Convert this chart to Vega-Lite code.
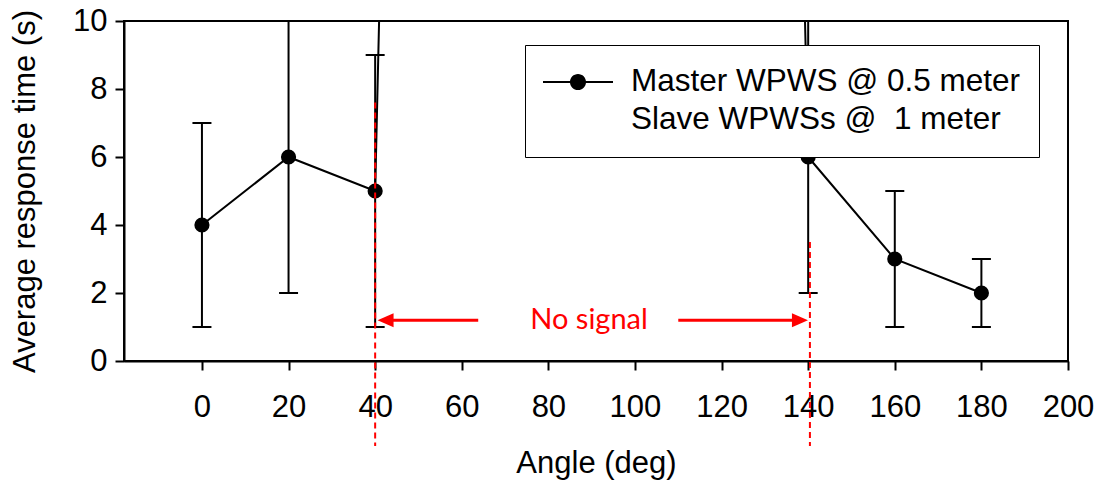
{
  "$schema": "https://vega.github.io/schema/vega-lite/v6.json",
  "width": 944,
  "height": 340,
  "autosize": "none",
  "padding": {"left": 124, "top": 21, "right": 33, "bottom": 126},
  "background": "white",
  "config": {
    "view": {"stroke": "black", "strokeWidth": 2},
    "axis": {
      "labelFont": "Liberation Sans", "labelFontSize": 31, "labelColor": "black", "labelFlush": false, "labelOverlap": false,
      "titleFont": "Liberation Sans", "titleFontSize": 31, "titleFontWeight": "normal", "titleColor": "black",
      "domainColor": "black", "domainWidth": 2, "tickColor": "black", "tickWidth": 2, "tickSize": 9, "grid": false
    },
    "axisX": {"labelPadding": 22, "titlePadding": 26},
    "axisY": {"labelPadding": 8, "titlePadding": 31}
  },
  "datasets": {
    "resp": [
      {"angle": 0, "mean": 4, "lo": 1, "hi": 7, "series": "Master WPWS @ 0.5 meter"},
      {"angle": 20, "mean": 6, "lo": 2, "hi": 10, "series": "Master WPWS @ 0.5 meter"},
      {"angle": 40, "mean": 5, "lo": 1, "hi": 9, "series": "Master WPWS @ 0.5 meter"},
      {"angle": 60, "mean": 115, "lo": null, "hi": null, "series": "Master WPWS @ 0.5 meter"},
      {"angle": 80, "mean": 115, "lo": null, "hi": null, "series": "Master WPWS @ 0.5 meter"},
      {"angle": 100, "mean": 115, "lo": null, "hi": null, "series": "Master WPWS @ 0.5 meter"},
      {"angle": 120, "mean": 115, "lo": null, "hi": null, "series": "Master WPWS @ 0.5 meter"},
      {"angle": 140, "mean": 6, "lo": 2, "hi": 10, "series": "Master WPWS @ 0.5 meter"},
      {"angle": 160, "mean": 3, "lo": 1, "hi": 5, "series": "Master WPWS @ 0.5 meter"},
      {"angle": 180, "mean": 2, "lo": 1, "hi": 3, "series": "Master WPWS @ 0.5 meter"}
    ],
    "cutoffs": [
      {"angle": 40, "top": 7.6, "bottom": -2.5},
      {"angle": 140.4, "top": 3.5, "bottom": -2.5}
    ],
    "shafts": [
      {"start": 42, "end": 63.8, "level": 1.2},
      {"start": 110, "end": 138, "level": 1.2}
    ],
    "heads": [
      {"angle": 42.4, "level": 1.2, "dir": "left"},
      {"angle": 138.1, "level": 1.2, "dir": "right"}
    ],
    "note": [
      {"angle": 89.4, "level": 1.2, "text": "No signal"}
    ]
  },
  "layer": [
    {
      "data": {"name": "resp"},
      "transform": [{"filter": "datum.lo != null"}],
      "mark": {"type": "rule", "color": "black", "strokeWidth": 2},
      "encoding": {
        "x": {"field": "angle", "type": "quantitative", "title": "Angle (deg)",
              "scale": {"domain": [-18, 200], "nice": false, "zero": false},
              "axis": {"values": [0, 20, 40, 60, 80, 100, 120, 140, 160, 180, 200]}},
        "y": {"field": "lo", "type": "quantitative", "title": "Average response time (s)",
              "scale": {"domain": [0, 10], "nice": false},
              "axis": {"values": [0, 2, 4, 6, 8, 10]}},
        "y2": {"field": "hi"}
      }
    },
    {
      "data": {"name": "resp"},
      "transform": [{"filter": "datum.lo != null"}],
      "mark": {"type": "tick", "orient": "horizontal", "color": "black", "size": 19, "thickness": 2, "opacity": 1},
      "encoding": {
        "x": {"field": "angle", "type": "quantitative", "title": "Angle (deg)", "scale": {"domain": [-18, 200], "nice": false, "zero": false}},
        "y": {"field": "lo", "type": "quantitative", "title": "Average response time (s)", "scale": {"domain": [0, 10], "nice": false}}
      }
    },
    {
      "data": {"name": "resp"},
      "transform": [{"filter": "datum.lo != null"}],
      "mark": {"type": "tick", "orient": "horizontal", "color": "black", "size": 19, "thickness": 2, "opacity": 1},
      "encoding": {
        "x": {"field": "angle", "type": "quantitative", "title": "Angle (deg)", "scale": {"domain": [-18, 200], "nice": false, "zero": false}},
        "y": {"field": "hi", "type": "quantitative", "title": "Average response time (s)", "scale": {"domain": [0, 10], "nice": false}}
      }
    },
    {
      "data": {"name": "resp"},
      "mark": {"type": "line", "color": "black", "strokeWidth": 2, "clip": true},
      "encoding": {
        "x": {"field": "angle", "type": "quantitative", "title": "Angle (deg)", "scale": {"domain": [-18, 200], "nice": false, "zero": false}},
        "y": {"field": "mean", "type": "quantitative", "title": "Average response time (s)", "scale": {"domain": [0, 10], "nice": false}}
      }
    },
    {
      "data": {"name": "resp"},
      "transform": [{"filter": "datum.lo != null"}],
      "mark": {"type": "point", "filled": true, "opacity": 1, "size": 230, "strokeWidth": 0},
      "encoding": {
        "x": {"field": "angle", "type": "quantitative", "title": "Angle (deg)", "scale": {"domain": [-18, 200], "nice": false, "zero": false}},
        "y": {"field": "mean", "type": "quantitative", "title": "Average response time (s)", "scale": {"domain": [0, 10], "nice": false}},
        "color": {
          "field": "series", "type": "nominal",
          "scale": {"domain": ["Master WPWS @ 0.5 meter", "Slave WPWSs @\u00a0 1 meter"], "range": ["black", "transparent"]},
          "legend": {
            "title": null, "orient": "none", "legendX": 401, "legendY": 24, "direction": "vertical",
            "padding": 18, "strokeColor": "black", "fillColor": "white",
            "symbolType": "M-1,-0.03L1,-0.03L1,0.03L-1,0.03Z M0.23,0A0.23,0.23 0 1,1 -0.23,0A0.23,0.23 0 1,1 0.23,0Z",
            "symbolSize": 4900, "symbolStrokeWidth": 0,
            "labelFont": "Liberation Sans", "labelFontSize": 31.5, "labelColor": "black", "labelLimit": 800,
            "labelOffset": 18, "clipHeight": 38, "rowPadding": 0,
            "encode": {"legend": {"update": {"strokeWidth": {"value": 2}}}}
          }
        }
      }
    },
    {
      "data": {"name": "cutoffs"},
      "mark": {"type": "rule", "color": "red", "strokeWidth": 2, "strokeDash": [6, 4], "clip": false},
      "encoding": {
        "x": {"field": "angle", "type": "quantitative", "title": "Angle (deg)", "scale": {"domain": [-18, 200], "nice": false, "zero": false}},
        "y": {"field": "top", "type": "quantitative", "title": "Average response time (s)", "scale": {"domain": [0, 10], "nice": false}},
        "y2": {"field": "bottom"}
      }
    },
    {
      "data": {"name": "shafts"},
      "mark": {"type": "rule", "color": "red", "strokeWidth": 3},
      "encoding": {
        "x": {"field": "start", "type": "quantitative", "title": "Angle (deg)", "scale": {"domain": [-18, 200], "nice": false, "zero": false}},
        "x2": {"field": "end"},
        "y": {"field": "level", "type": "quantitative", "title": "Average response time (s)", "scale": {"domain": [0, 10], "nice": false}}
      }
    },
    {
      "data": {"name": "heads"},
      "mark": {"type": "point", "filled": true, "opacity": 1, "color": "red", "size": 256, "strokeWidth": 0},
      "encoding": {
        "x": {"field": "angle", "type": "quantitative", "title": "Angle (deg)", "scale": {"domain": [-18, 200], "nice": false, "zero": false}},
        "y": {"field": "level", "type": "quantitative", "title": "Average response time (s)", "scale": {"domain": [0, 10], "nice": false}},
        "shape": {"field": "dir", "type": "nominal", "legend": null,
                  "scale": {"domain": ["left", "right"], "range": ["M-1,0L1,-0.875L1,0.875Z", "M1,0L-1,-0.875L-1,0.875Z"]}}
      }
    },
    {
      "data": {"name": "note"},
      "mark": {"type": "text", "color": "red", "font": "Lato", "fontSize": 29, "align": "center", "baseline": "middle"},
      "encoding": {
        "x": {"field": "angle", "type": "quantitative", "title": "Angle (deg)", "scale": {"domain": [-18, 200], "nice": false, "zero": false}},
        "y": {"field": "level", "type": "quantitative", "title": "Average response time (s)", "scale": {"domain": [0, 10], "nice": false}},
        "text": {"field": "text"}
      }
    }
  ]
}
